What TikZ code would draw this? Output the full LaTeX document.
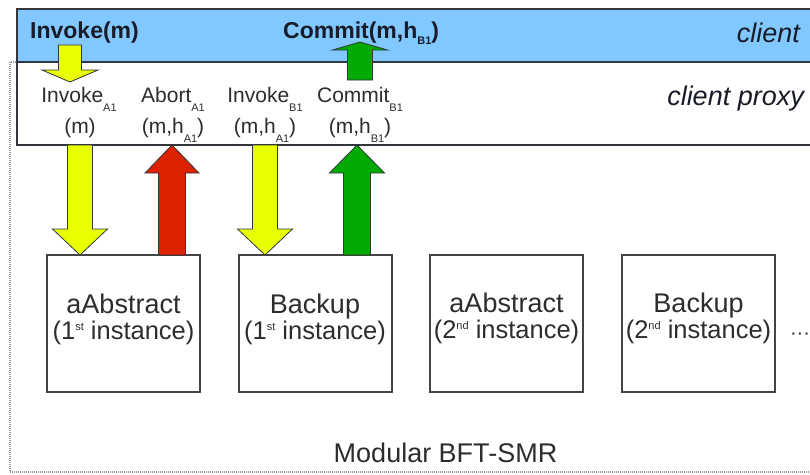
\documentclass[tikz,border=0pt]{standalone}
\usepackage{fontspec}
\setmainfont{Liberation Sans}
\usetikzlibrary{calc}
\definecolor{cyel}{RGB}{232,255,0}
\definecolor{cred}{RGB}{221,34,0}
\definecolor{cgrn}{RGB}{0,170,0}
\definecolor{cblue}{RGB}{128,200,255}
\definecolor{cline}{RGB}{50,55,62}
\definecolor{cbox}{RGB}{68,68,68}
\definecolor{ctext}{RGB}{45,45,45}
\definecolor{cdark}{RGB}{25,28,40}
\newcommand{\myfs}[1]{\fontsize{#1}{#1}\selectfont}
\newcommand{\mysub}[1]{\raisebox{-9pt}{\myfs{11}#1}}
\newcommand{\mybsub}[1]{\raisebox{-6pt}{\myfs{11}#1}}
\newcommand{\mysup}[1]{\raisebox{9pt}{\myfs{11}#1}}
\newcommand{\blockarr}[6]{%
  \coordinate (hb) at ($(#2)!#6!(#1)$);
  \draw[arrowline, fill=#3] ($(#1)!#4!90:(#2)$) -- ($(hb)!#4!90:(#2)$) -- ($(hb)!#5!90:(#2)$) -- (#2) -- ($(hb)!#5!-90:(#2)$) -- ($(hb)!#4!-90:(#2)$) -- ($(#1)!#4!-90:(#2)$) -- cycle;}
\begin{document}
\begin{tikzpicture}[x=1pt,y=-1pt,
  arrowline/.style={draw=cline, line width=0.8pt, line join=miter},
  band/.style={draw=cline, line width=2pt, anchor=north west, inner sep=0pt, outer sep=0pt, minimum width=796pt},
  mbox/.style={draw=cbox, line width=2pt, fill=white, inner sep=0pt, outer sep=0pt, minimum width=153pt, minimum height=137pt},
  btxt/.style={anchor=base, inner sep=0pt, text=ctext, font=\myfs{27}},
  itxt/.style={anchor=base, inner sep=0pt, text=ctext, font=\myfs{25.5}},
  plab/.style={anchor=base, inner sep=0pt, text=ctext, font=\myfs{21}},
  ctxt/.style={anchor=base west, inner sep=0pt, text=cdark, font=\bfseries\myfs{23}},
  rtxt/.style={anchor=base east, inner sep=0pt, text=cdark, font=\itshape\myfs{27}}]
\useasboundingbox (0,0) rectangle (810,474);
% outer dotted frame
\draw[gray!80, line width=1.1pt, dash pattern=on 1pt off 1pt] (820,62) -- (10,62) -- (10,472) -- (820,472);
% bands
\node[band, fill=white, minimum height=83pt] (proxy) at (17,62) {};
\node[band, fill=cblue, minimum height=53pt] (client) at (17,9) {};
% boxes
\node[mbox] (b1) at (123.5,323.5) {};
\node[mbox] (b2) at (315,323.5) {};
\node[mbox] (b3) at (506.5,323) {};
\node[mbox] (b4) at (698.5,323) {};
% big arrows
\coordinate (ya) at (80,145);   \coordinate (yb) at (ya |- b1.north);
\coordinate (ra) at (172,145);  \coordinate (rb) at (ra |- b1.north);
\coordinate (za) at (265,145);  \coordinate (zb) at (za |- b2.north);
\coordinate (ga) at (357,145);  \coordinate (gb) at (ga |- b2.north);
\blockarr{ya}{yb}{cyel}{12.5pt}{27.5pt}{26pt}
\blockarr{rb}{ra}{cred}{13.5pt}{27pt}{28pt}
\blockarr{za}{zb}{cyel}{12.5pt}{27.5pt}{26pt}
\blockarr{gb}{ga}{cgrn}{13.5pt}{27.5pt}{28pt}
% small arrows
\coordinate (sya) at (70,45);  \coordinate (syb) at (70,82);
\coordinate (sga) at (360,80); \coordinate (sgb) at (360,42);
\blockarr{sya}{syb}{cyel}{11.5pt}{28pt}{12pt}
\blockarr{sga}{sgb}{cgrn}{12.5pt}{27.5pt}{8pt}
% client texts
\node[ctxt] (inv) at (30,38) {Invoke(m)};
\node[ctxt] (com) at (283,38) {Commit(m,h\mybsub{B1})};
\node[rtxt] (cl) at (800,42) {client};
\node[rtxt] (cp) at (804,105) {client proxy};
% proxy labels
\node[plab] (iA)  at (79,102)  {Invoke\mysub{A1}};
\node[plab] (iAm) at (80,133)  {(m)};
\node[plab] (aA)  at (173,102) {Abort\mysub{A1}};
\node[plab] (aAm) at (173,133) {(m,h\mysub{A1})};
\node[plab] (iB)  at (265,102) {Invoke\mysub{B1}};
\node[plab] (iBm) at (265,133) {(m,h\mysub{A1})};
\node[plab] (cB)  at (360,102) {Commit\mysub{B1}};
\node[plab] (cBm) at (360,133) {(m,h\mysub{B1})};
% box texts
\node[btxt] (b1a) at ($(b1.center)+(0,-10.5)$) {aAbstract};
\node[itxt] (b1b) at ($(b1.center)+(0,15.5)$) {(1\mysup{st} instance)};
\node[btxt] (b2a) at ($(b2.center)+(0,-10.5)$) {Backup};
\node[itxt] (b2b) at ($(b2.center)+(0,15.5)$) {(1\mysup{st} instance)};
\node[btxt] (b3a) at ($(b3.center)+(0,-10.5)$) {aAbstract};
\node[itxt] (b3b) at ($(b3.center)+(0,15.5)$) {(2\mysup{nd} instance)};
\node[btxt] (b4a) at ($(b4.center)+(0,-10.5)$) {Backup};
\node[itxt] (b4b) at ($(b4.center)+(0,15.5)$) {(2\mysup{nd} instance)};
\node[anchor=base, inner sep=0pt, text=ctext, font=\myfs{20}] (dots) at (800,339) {···};
\node[btxt] (mod) at (445.5,462) {Modular BFT-SMR};
\end{tikzpicture}
\end{document}
